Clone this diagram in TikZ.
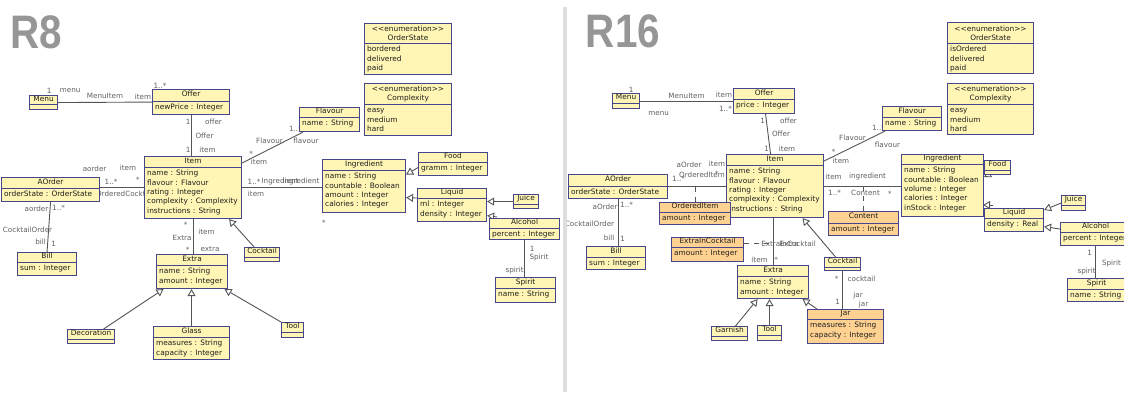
\documentclass[tikz,border=0pt]{standalone}
\usepackage{fontspec}
\setmainfont{DejaVu Sans}
\newfontfamily\panelfont{Liberation Sans}
\usetikzlibrary{arrows.meta,backgrounds}
\definecolor{clsyellow}{RGB}{255,245,180}
\definecolor{clsorange}{RGB}{255,210,145}
\definecolor{clsborder}{RGB}{70,70,140}
\definecolor{clstext}{RGB}{30,30,30}
\definecolor{linegray}{RGB}{85,85,85}
\definecolor{lblgray}{RGB}{95,95,95}
\definecolor{titlegray}{RGB}{150,150,150}
\definecolor{sepgray}{RGB}{222,222,222}
\newcommand{\clsfont}{\fontsize{7.4}{9.4}\selectfont}
\newcommand{\lblfont}{\fontsize{7.2}{8.6}\selectfont}
\newcommand{\enumtitle}[1]{\textless\kern0pt\textless\kern0pt enumeration\kern0pt\textgreater\kern0pt\textgreater\\#1}
\tikzset{
  clsbox/.style={draw=clsborder, fill=clsyellow, line width=1.1pt, inner sep=0pt, rectangle},
  clsorange/.style={clsbox, fill=clsorange},
  clsrule/.style={draw=clsborder, line width=0.9pt},
  clstitle/.style={font=\clsfont, text=clstext, inner sep=0pt, align=center},
  clsattr/.style={font=\clsfont, text=clstext, inner sep=0pt, anchor=north west, align=left},
  assoc/.style={draw=linegray, line width=0.9pt},
  assocdash/.style={assoc, dash pattern=on 5pt off 5pt},
  gen/.style={assoc, -{Triangle[length=7pt, width=8pt, fill=white]}},
  lbl/.style={font=\lblfont, text=lblgray, inner sep=0pt},
  paneltitle/.style={font=\panelfont\bfseries\fontsize{47}{47}\selectfont, text=titlegray,
                     inner sep=0pt, transform shape, xscale=0.86}
}
% class box: [style]{name}{x,y}{width}{height}{header height}{title}{attributes}
\newcommand{\umlclass}[8][clsbox]{%
  \node[#1, anchor=north west, minimum width=#4pt, minimum height=#5pt] (#2) at (#3) {};
  \draw[clsrule] ([yshift=-#6pt]#2.north west) -- ([yshift=-#6pt]#2.north east);
  \node[clstitle] (#2-name) at ([yshift=-#6pt/2]#2.north) {\strut#7};
  \node[clsattr] (#2-attr) at ([xshift=3pt,yshift=-#6pt-2pt]#2.north west) {\strut#8};
}

\begin{document}
\begin{tikzpicture}[x=1pt, y=-1pt]
\useasboundingbox (0,0) rectangle (1124,392);
\fill[sepgray] (563,7) rectangle (567,392);

% ---------- R8 ----------
\node[paneltitle] (r8) at (36,32) {R8};
\umlclass{menu8}{29,95}{28}{14}{9}{Menu}{}
\umlclass{offer8}{152,89}{77}{25}{12}{Offer}{newPrice : Integer}
\umlclass{item8}{144,156}{97}{62}{11}{Item}{name : String\\flavour : Flavour\\rating : Integer\\complexity : Complexity\\instructions : String}
\umlclass{aorder8}{1,177}{98}{24}{11}{AOrder}{orderState : OrderState}
\umlclass{bill8}{17,252}{59}{23}{10}{Bill}{sum : Integer}
\umlclass{extra8}{156,254}{71}{34}{11}{Extra}{name : String\\amount : Integer}
\umlclass{cocktail8}{244,247}{35}{14}{10}{Cocktail}{}
\umlclass{decoration8}{67,329}{47}{14}{10}{Decoration}{}
\umlclass{glass8}{153,326}{76}{33}{11}{Glass}{measures : String\\capacity : Integer}
\umlclass{tool8}{281,322}{22}{15}{10}{Tool}{}
\umlclass{flavour8}{299,107}{60}{24}{10}{Flavour}{name : String}
\umlclass{orderstate8}{364,23}{87}{51}{20}{\enumtitle{OrderState}}{bordered\\delivered\\paid}
\umlclass{complexity8}{364,83}{87}{52}{21}{\enumtitle{Complexity}}{easy\\medium\\hard}
\umlclass{ingredient8}{322,159}{83}{53}{11}{Ingredient}{name : String\\countable : Boolean\\amount : Integer\\calories : Integer}
\umlclass{food8}{418,152}{69}{23}{10}{Food}{gramm : Integer}
\umlclass{liquid8}{417,188}{69}{33}{10}{Liquid}{ml : Integer\\density : Integer}
\umlclass{juice8}{513,194}{25}{14}{10}{Juice}{}
\umlclass{alcohol8}{489,218}{70}{21}{10}{Alcohol}{percent : Integer}
\umlclass{spirit8}{495,277}{60}{25}{11}{Spirit}{name : String}

\begin{scope}[on background layer]
\draw[assoc] (menu8.east) -- (offer8.west)
  node[lbl, at start, xshift=-9pt, yshift=12pt] {1}
  node[lbl, at start, xshift=12pt, yshift=12pt] {menu}
  node[lbl, pos=.5, yshift=6pt] {MenuItem}
  node[lbl, at end, xshift=-9pt, yshift=5.5pt] {item}
  node[lbl, at end, xshift=8pt, yshift=16.5pt] {1..*};
\draw[assoc] (offer8.south) -- (offer8.south |- item8.north)
  node[lbl, at start, xshift=-3pt, yshift=-7pt] {1}
  node[lbl, at start, xshift=22.5pt, yshift=-7pt] {offer}
  node[lbl, pos=.5, xshift=13.5pt] {Offer}
  node[lbl, at end, xshift=-3pt, yshift=6pt] {1}
  node[lbl, at end, xshift=16.5pt, yshift=6pt] {item};
\draw[assoc] (item8.west -| aorder8.east) -- (item8.west)
  node[lbl, at start, xshift=-5.5pt, yshift=19pt] {aorder}
  node[lbl, at start, xshift=11pt, yshift=6pt] {1..*}
  node[lbl, pos=.5, xshift=3pt, yshift=-6pt] {OrderedCocktail}
  node[lbl, at end, xshift=-16pt, yshift=20pt] {item}
  node[lbl, at end, xshift=-6pt, yshift=8pt] {*};
\draw[assoc] (aorder8.south) -- (bill8.north)
  node[lbl, at start, xshift=-14pt, yshift=-7pt] {aorder}
  node[lbl, at start, xshift=8pt, yshift=-6pt] {1..*}
  node[lbl, at start, xshift=-23pt, yshift=-28pt] {CocktailOrder}
  node[lbl, at end, xshift=-6.5pt, yshift=10pt] {bill}
  node[lbl, at end, xshift=6.5pt, yshift=8pt] {1};
\draw[assoc] (item8.south) -- (item8.south |- extra8.north)
  node[lbl, at start, xshift=-7.5pt, yshift=-6pt] {*}
  node[lbl, at start, xshift=13.5pt, yshift=-13pt] {item}
  node[lbl, pos=.5, xshift=-11pt, yshift=-1pt] {Extra}
  node[lbl, at end, xshift=-5.5pt, yshift=4pt] {*}
  node[lbl, at end, xshift=17pt, yshift=5pt] {extra};
\draw[assoc] (item8.east) -- (item8.east -| ingredient8.west)
  node[lbl, at start, xshift=12pt, yshift=6pt] {1..*}
  node[lbl, pos=.5, xshift=-2pt, yshift=6pt] {Ingredient}
  node[lbl, at end, xshift=-21pt, yshift=6pt] {ingredient}
  node[lbl, at start, xshift=14pt, yshift=-6pt] {item}
  node[lbl, at end, xshift=2pt, yshift=-35pt] {*};
\draw[assoc] ([yshift=-7pt]item8.north east) -- ([xshift=4pt]flavour8.south west)
  node[lbl, at start, xshift=9pt, yshift=9.5pt] {*}
  node[lbl, at start, xshift=17pt, yshift=1pt] {item}
  node[lbl, pos=.5, xshift=-3pt, yshift=7pt] {Flavour}
  node[lbl, at end, xshift=3pt, yshift=-9pt] {flavour}
  node[lbl, at end, xshift=-7.5pt, yshift=3.5pt] {1..*};
\draw[assoc] (alcohol8.south) -- (alcohol8.south |- spirit8.north)
  node[lbl, at start, xshift=7.5pt, yshift=-9pt] {1}
  node[lbl, at start, xshift=14.5pt, yshift=-17pt] {Spirit}
  node[lbl, at end, xshift=-10pt, yshift=6pt] {spirit};
% generalisations
\draw[gen] ([xshift=-8pt]cocktail8.north) -- ([xshift=36pt]item8.south);
\draw[gen] ([xshift=12.5pt]decoration8.north) -- ([xshift=-28.5pt]extra8.south);
\draw[gen] (glass8.north) -- (glass8.north |- extra8.south);
\draw[gen] (tool8.north west) -- ([xshift=32.5pt]extra8.south);
\draw[gen] ([yshift=-3.5pt]food8.west) -- ([yshift=11.5pt]ingredient8.east);
\draw[gen] ([yshift=7pt]liquid8.west) -- ([yshift=-11.5pt]ingredient8.east);
\draw[gen] (juice8.west) -- (juice8.west -| liquid8.east);
\draw[gen] ([xshift=8pt,yshift=1pt]alcohol8.north west) -- ([yshift=-10.5pt]liquid8.east);
\end{scope}

% ---------- R16 ----------
\node[paneltitle] (r16) at (623,31) {R16};
\umlclass{menu16}{612,93}{27}{15}{10}{Menu}{}
\umlclass{offer16}{733,88}{61}{25}{11}{Offer}{price : Integer}
\umlclass{item16}{726,154}{97}{63}{11}{Item}{name : String\\flavour : Flavour\\rating : Integer\\complexity : Complexity\\instructions : String}
\umlclass{aorder16}{568,174}{99}{24}{12}{AOrder}{orderState : OrderState}
\umlclass{bill16}{586,246}{59}{23}{11}{Bill}{sum : Integer}
\umlclass[clsorange]{ordereditem16}{659,202}{71}{22}{10}{OrderedItem}{amount : Integer}
\umlclass[clsorange]{extraincocktail16}{671,237}{72}{24}{10}{ExtraInCocktail}{amount : Integer}
\umlclass{extra16}{737,265}{71}{33}{11}{Extra}{name : String\\amount : Integer}
\umlclass{garnish16}{711,326}{36}{14}{10}{Garnish}{}
\umlclass{tool16}{757,325}{24}{15}{10}{Tool}{}
\umlclass[clsorange]{jar16}{807,309}{76}{34}{10}{Jar}{measures : String\\capacity : Integer}
\umlclass{cocktail16}{824,257}{36}{13}{10}{Cocktail}{}
\umlclass{ingredient16}{901,154}{82}{62}{10}{Ingredient}{name : String\\countable : Boolean\\volume : Integer\\calories : Integer\\inStock : Integer}
\umlclass[clsorange]{content16}{828,211}{70}{24}{12}{Content}{amount : Integer}
\umlclass{flavour16}{882,106}{59}{24}{11}{Flavour}{name : String}
\umlclass{orderstate16}{947,22}{86}{51}{21}{\enumtitle{OrderState}}{isOrdered\\delivered\\paid}
\umlclass{complexity16}{947,83}{86}{51}{21}{\enumtitle{Complexity}}{easy\\medium\\hard}
\umlclass{food16}{984,160}{26}{14}{10}{Food}{}
\umlclass{liquid16}{984,208}{59}{23}{10}{Liquid}{density : Real}
\umlclass{juice16}{1061,195}{24}{15}{10}{Juice}{}
\umlclass{alcohol16}{1060,222}{70}{23}{10}{Alcohol}{percent : Integer}
\umlclass{spirit16}{1067,278}{58}{23}{11}{Spirit}{name : String}

\begin{scope}[on background layer]
\clip (567,0) rectangle (1124,392);
\draw[assoc] (menu16.east) -- (offer16.west)
  node[lbl, at start, xshift=-9pt, yshift=11.5pt] {1}
  node[lbl, at start, xshift=18.5pt, yshift=-12pt] {menu}
  node[lbl, pos=.5, yshift=5.5pt] {MenuItem}
  node[lbl, at end, xshift=-9pt, yshift=6.5pt] {item}
  node[lbl, at end, xshift=-7.5pt, yshift=-8pt] {1..*};
\draw[assoc] ([xshift=1.5pt]offer16.south) -- ([xshift=-4.5pt]item16.north)
  node[lbl, at start, xshift=-3pt, yshift=-7pt] {1}
  node[lbl, at start, xshift=23pt, yshift=-6.5pt] {offer}
  node[lbl, pos=.5, xshift=13pt] {Offer}
  node[lbl, at end, xshift=-4pt, yshift=5pt] {1}
  node[lbl, at end, xshift=16.5pt, yshift=5pt] {item};
\draw[assoc] (aorder16.east) -- (aorder16.east -| item16.west)
  node[lbl, at start, xshift=21pt, yshift=22pt] {aOrder}
  node[lbl, at start, xshift=10.5pt, yshift=7.5pt] {1..*}
  node[lbl, pos=.5, xshift=5pt, yshift=12pt] {OrderedItem}
  node[lbl, at end, xshift=-9pt, yshift=23pt] {item}
  node[lbl, at end, xshift=-9pt, yshift=12.5pt] {*};
\draw[assoc] (aorder16.south) -- (aorder16.south |- bill16.north)
  node[lbl, at start, xshift=-13pt, yshift=-8pt] {aOrder}
  node[lbl, at start, xshift=8.5pt, yshift=-6pt] {1..*}
  node[lbl, at start, xshift=-28.5pt, yshift=-25pt] {CocktailOrder}
  node[lbl, at end, xshift=-9pt, yshift=8.5pt] {bill}
  node[lbl, at end, xshift=4.5pt, yshift=7pt] {1};
\draw[assocdash] (ordereditem16.north |- aorder16.east) -- (ordereditem16.north);
\draw[assoc] (extra16.north |- item16.south) -- (extra16.north)
  node[lbl, at end, xshift=-13.5pt, yshift=5pt] {item}
  node[lbl, at end, xshift=3pt, yshift=5.5pt] {*};
\draw[assocdash] ([yshift=6pt]extraincocktail16.east) -- ([yshift=6pt]extraincocktail16.east -| extra16.north)
  node[lbl, at end, xshift=15.5pt] {ExtraInCocktail}
  node[lbl, at end, xshift=16pt] {Extra};
\draw[assoc] (item16.east) -- (item16.east -| ingredient16.west)
  node[lbl, at start, xshift=9.5pt, yshift=9pt] {item}
  node[lbl, at start, xshift=10.5pt, yshift=-7pt] {1..*}
  node[lbl, pos=.5, xshift=3pt, yshift=-6.5pt] {Content}
  node[lbl, at end, xshift=-33.5pt, yshift=10pt] {ingredient}
  node[lbl, at end, xshift=-11pt, yshift=-8pt] {*};
\draw[assocdash] (content16.north |- item16.east) -- (content16.north);
\draw[assoc] ([yshift=-7pt]item16.north east) -- ([xshift=3pt]flavour16.south west)
  node[lbl, at start, xshift=9.5pt, yshift=9.5pt] {*}
  node[lbl, at start, xshift=17pt] {item}
  node[lbl, pos=.5, xshift=-2pt, yshift=8pt] {Flavour}
  node[lbl, at end, xshift=2.5pt, yshift=-14pt] {flavour}
  node[lbl, at end, xshift=-6.5pt, yshift=3.5pt] {1..*};
\draw[assoc] (cocktail16.south) -- (cocktail16.south |- jar16.north)
  node[lbl, at start, xshift=-6pt, yshift=-8pt] {*}
  node[lbl, at start, xshift=19pt, yshift=-8pt] {cocktail}
  node[lbl, pos=.5, xshift=15.5pt, yshift=-5pt] {jar}
  node[lbl, at end, xshift=-5pt, yshift=7pt] {1}
  node[lbl, at end, xshift=21pt, yshift=4pt] {jar};
\draw[assoc] (alcohol16.south) -- (alcohol16.south |- spirit16.north)
  node[lbl, at start, xshift=-6pt, yshift=-7pt] {1}
  node[lbl, at start, xshift=16pt, yshift=-17pt] {Spirit}
  node[lbl, at end, xshift=-9pt, yshift=6pt] {spirit};
% generalisations
\draw[gen] ([xshift=-7pt]cocktail16.north) -- ([xshift=27.5pt]item16.south);
\draw[gen] ([xshift=6pt]garnish16.north) -- ([xshift=-15.5pt]extra16.south);
\draw[gen] (tool16.north) -- (tool16.north |- extra16.south);
\draw[gen] ([xshift=10pt]jar16.north west) -- ([xshift=29.5pt]extra16.south);
\draw[gen] ([xshift=7pt,yshift=2pt]food16.south west) -- ([yshift=-2pt]food16.south west);
\draw[gen] ([xshift=9pt,yshift=3pt]liquid16.north west) -- ([xshift=-1pt,yshift=3pt]liquid16.north west);
\draw[gen] (juice16.west) -- ([yshift=-2pt]liquid16.north east);
\draw[gen] ([yshift=5pt]alcohol16.west) -- ([yshift=-6.5pt]liquid16.east);
\end{scope}
\end{tikzpicture}
\end{document}
